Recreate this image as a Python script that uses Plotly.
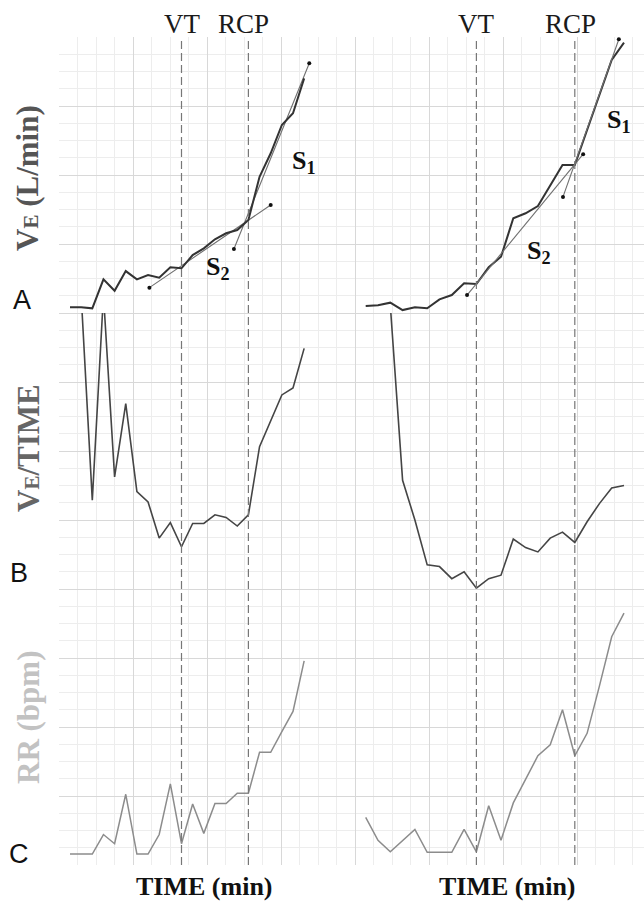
import plotly.graph_objects as go

W, H = 644, 902

# ---------------- data ----------------
time_left = [0.0, 0.5, 1.0, 1.5, 2.0, 2.5, 3.0, 3.5, 4.0, 4.5, 5.0,
             5.5, 6.0, 6.5, 7.0, 7.5, 8.0, 8.5, 9.0, 9.5, 10.0, 10.5]
time_right = [0.0, 0.5, 1.0, 1.5, 2.0, 2.5, 3.0, 3.5, 4.0, 4.5, 5.0,
              5.5, 6.0, 6.5, 7.0, 7.5, 8.0, 8.5, 9.0, 9.5, 10.0, 10.5]

ve_left = [13.3, 13.3, 12.7, 29.5, 22.9, 34.3, 29.5, 32.0, 30.5, 36.5, 35.9,
           43.6, 47.5, 52.7, 56.2, 58.1, 63.9, 89.0, 102.6, 119.0, 125.8, 146.0]
ve_right = [14.1, 14.5, 16.0, 11.7, 13.3, 12.7, 17.9, 20.4, 27.2, 26.8, 36.5,
            42.6, 64.9, 67.8, 72.0, 83.8, 95.8, 95.8, 116.1, 136.4, 156.7, 166.7]

ve_time_left = [None, 54.1, 30.3, 54.1, 33.0, 41.5, 31.3, 30.1, 25.9, 27.7, 24.9,
                27.6, 27.6, 28.6, 28.3, 27.3, 28.6, 36.5, 39.4, 42.5, 43.3, 47.9]
ve_time_right = [None, None, 52.9, 32.6, 28.0, 22.8, 22.6, 21.2, 22.0, 20.1, 21.2,
                 21.6, 25.8, 24.8, 24.3, 25.9, 26.6, 25.4, 27.8, 29.9, 31.7, 32.0]

rr_left = [11.9, 11.9, 11.9, 15.3, 13.7, 22.3, 11.9, 11.9, 15.3, 24.1, 13.7,
           20.6, 15.5, 20.7, 20.7, 22.5, 22.5, 29.6, 29.6, 33.2, 36.7, 45.5]
rr_right = [18.3, 14.3, 12.3, 14.3, 16.2, 12.2, 12.2, 12.2, 16.2, 12.3, 20.3,
            14.3, 20.8, 24.9, 29.0, 30.9, 37.0, 29.0, 32.9, 41.1, 49.7, 53.8]

vt_left, rcp_left = 5.0, 8.0
vt_right, rcp_right = 4.5, 8.5

# regression segments S1 / S2 (end points)
s2_left_t, s2_left_ve = [3.56, 9.0], [24.7, 72.6]
s1_left_t, s1_left_ve = [7.35, 10.73], [47.1, 154.8]
s2_right_t, s2_right_ve = [4.12, 8.84], [20.4, 102.1]
s1_right_t, s1_right_ve = [8.02, 10.29], [77.3, 168.7]


# ---------------- helpers ----------------
def px_x(p):
    return p / W


def px_y(p):
    return 1 - p / H


SERIF = "Liberation Serif, Times New Roman, serif"
SANS = "Liberation Sans, Arial, sans-serif"

fig = go.Figure()

# background grid carrier
fig.add_trace(go.Scatter(x=[None], y=[None], xaxis="x", yaxis="y",
                         showlegend=False, hoverinfo="skip"))

A_COL, B_COL, C_COL = "#333333", "#454545", "#8c8c8c"
REG_COL = "#6f6f6f"

def line(x, y, xa, ya, color, width):
    fig.add_trace(go.Scatter(x=x, y=y, xaxis=xa, yaxis=ya, mode="lines",
                             line=dict(color=color, width=width),
                             connectgaps=False, showlegend=False, hoverinfo="skip"))

def reg(x, y, xa, ya):
    fig.add_trace(go.Scatter(x=x, y=y, xaxis=xa, yaxis=ya, mode="lines+markers",
                             line=dict(color=REG_COL, width=1.1),
                             marker=dict(color="#111111", size=4),
                             showlegend=False, hoverinfo="skip", cliponaxis=False))

# left column
reg(s2_left_t, s2_left_ve, "x2", "y2")
reg(s1_left_t, s1_left_ve, "x2", "y2")
line(time_left, ve_left, "x2", "y2", A_COL, 2.0)
line(time_left, ve_time_left, "x2", "y3", B_COL, 1.6)
line(time_left, rr_left, "x2", "y4", C_COL, 1.5)
# right column
line(time_right, ve_right, "x3", "y5", A_COL, 2.0)
reg(s2_right_t, s2_right_ve, "x3", "y5")
reg(s1_right_t, s1_right_ve, "x3", "y5")
line(time_right, ve_time_right, "x3", "y6", B_COL, 1.6)
line(time_right, rr_right, "x3", "y7", C_COL, 1.5)

hidden = dict(visible=False, showgrid=False, zeroline=False, fixedrange=True)

top_py, bot_py = 37, 865
rowA = [px_y(313), px_y(37)]
rowB = [px_y(589), px_y(313)]
rowC = [px_y(865), px_y(589)]

layout = dict(
    width=W, height=H, autosize=False,
    margin=dict(l=0, r=0, t=0, b=0, pad=0),
    paper_bgcolor="white", plot_bgcolor="rgba(0,0,0,0)",
    showlegend=False,
    xaxis=dict(domain=[px_x(59), 1], range=[0, (W - 59) / 18.5], tick0=0, dtick=4,
               showgrid=True, gridcolor="#d8d8d8", gridwidth=1.2,
               minor=dict(dtick=1, showgrid=True, gridcolor="#ededed", gridwidth=1),
               showticklabels=False, ticks="", zeroline=False, showline=False,
               fixedrange=True),
    yaxis=dict(domain=[px_y(bot_py), px_y(top_py)], range=[0, 48], tick0=0, dtick=4,
               showgrid=True, gridcolor="#d8d8d8", gridwidth=1.2,
               minor=dict(dtick=1, showgrid=True, gridcolor="#ededed", gridwidth=1),
               showticklabels=False, ticks="", zeroline=False, showline=False,
               fixedrange=True),
    xaxis2=dict(domain=[px_x(59), px_x(330)], range=[-0.4933, 11.659], anchor="y4", **hidden),
    xaxis3=dict(domain=[px_x(330), 1], range=[-1.451, 11.313], anchor="y7", **hidden),
    yaxis2=dict(domain=rowA, range=[10, 170], anchor="x2", **hidden),
    yaxis3=dict(domain=rowB, range=[20, 52], anchor="x2", **hidden),
    yaxis4=dict(domain=rowC, range=[10, 58], anchor="x2", **hidden),
    yaxis5=dict(domain=rowA, range=[10, 170], anchor="x3", **hidden),
    yaxis6=dict(domain=rowB, range=[20, 52], anchor="x3", **hidden),
    yaxis7=dict(domain=rowC, range=[10, 58], anchor="x3", **hidden),
)
fig.update_layout(**layout)

# threshold dashed lines
for xa, xv in [("x2", vt_left), ("x2", rcp_left), ("x3", vt_right), ("x3", rcp_right)]:
    fig.add_shape(type="line", xref=xa, yref="paper", x0=xv, x1=xv,
                  y0=px_y(bot_py), y1=px_y(top_py),
                  line=dict(color="#777777", width=1.2, dash="8px,4px"), layer="above")

ann = []
# VT / RCP labels
for xa, xv, txt, sh in [("x2", vt_left, "VT", 0), ("x2", rcp_left, "RCP", -5),
                        ("x3", vt_right, "VT", 0), ("x3", rcp_right, "RCP", -4)]:
    ann.append(dict(xref=xa, yref="paper", x=xv, y=px_y(24), text=txt, xshift=sh,
                    showarrow=False, xanchor="center", yanchor="middle",
                    font=dict(family=SERIF, size=27, color="#1a1a1a")))

# S1 / S2 labels
for cx, cy, txt in [(304, 162, "S<sub>1</sub>"), (218, 268, "S<sub>2</sub>"),
                    (619, 121, "S<sub>1</sub>"), (539, 252, "S<sub>2</sub>")]:
    ann.append(dict(xref="paper", yref="paper", x=px_x(cx), y=px_y(cy),
                    text="<b>" + txt + "</b>", showarrow=False,
                    xanchor="center", yanchor="middle",
                    font=dict(family=SERIF, size=26, color="#111111")))

# rotated axis titles
for cy, txt, col in [(178, "V<span style='font-size:21px'>E</span> (L/min)", "#555555"),
                     (448, "V<span style='font-size:21px'>E</span>/TIME", "#666666"),
                     (718, "RR (bpm)", "#c2c2c2")]:
    ann.append(dict(xref="paper", yref="paper", x=px_x(28), y=px_y(cy),
                    text="<b>" + txt + "</b>", textangle=-90, showarrow=False,
                    xanchor="center", yanchor="middle",
                    font=dict(family=SERIF, size=31, color=col)))

# panel letters
for cx, cy, txt in [(22, 300, "A"), (19, 573, "B"), (19, 854, "C")]:
    ann.append(dict(xref="paper", yref="paper", x=px_x(cx), y=px_y(cy), text=txt,
                    showarrow=False, xanchor="center", yanchor="middle",
                    font=dict(family=SANS, size=27, color="#111111")))

# bottom x titles
for cx in [204, 507]:
    ann.append(dict(xref="paper", yref="paper", x=px_x(cx), y=px_y(886),
                    text="<b>TIME (min)</b>", showarrow=False,
                    xanchor="center", yanchor="middle",
                    font=dict(family=SERIF, size=26, color="#111111")))

fig.update_layout(annotations=ann)

fig.write_html("out.html", config={"displayModeBar": False})
